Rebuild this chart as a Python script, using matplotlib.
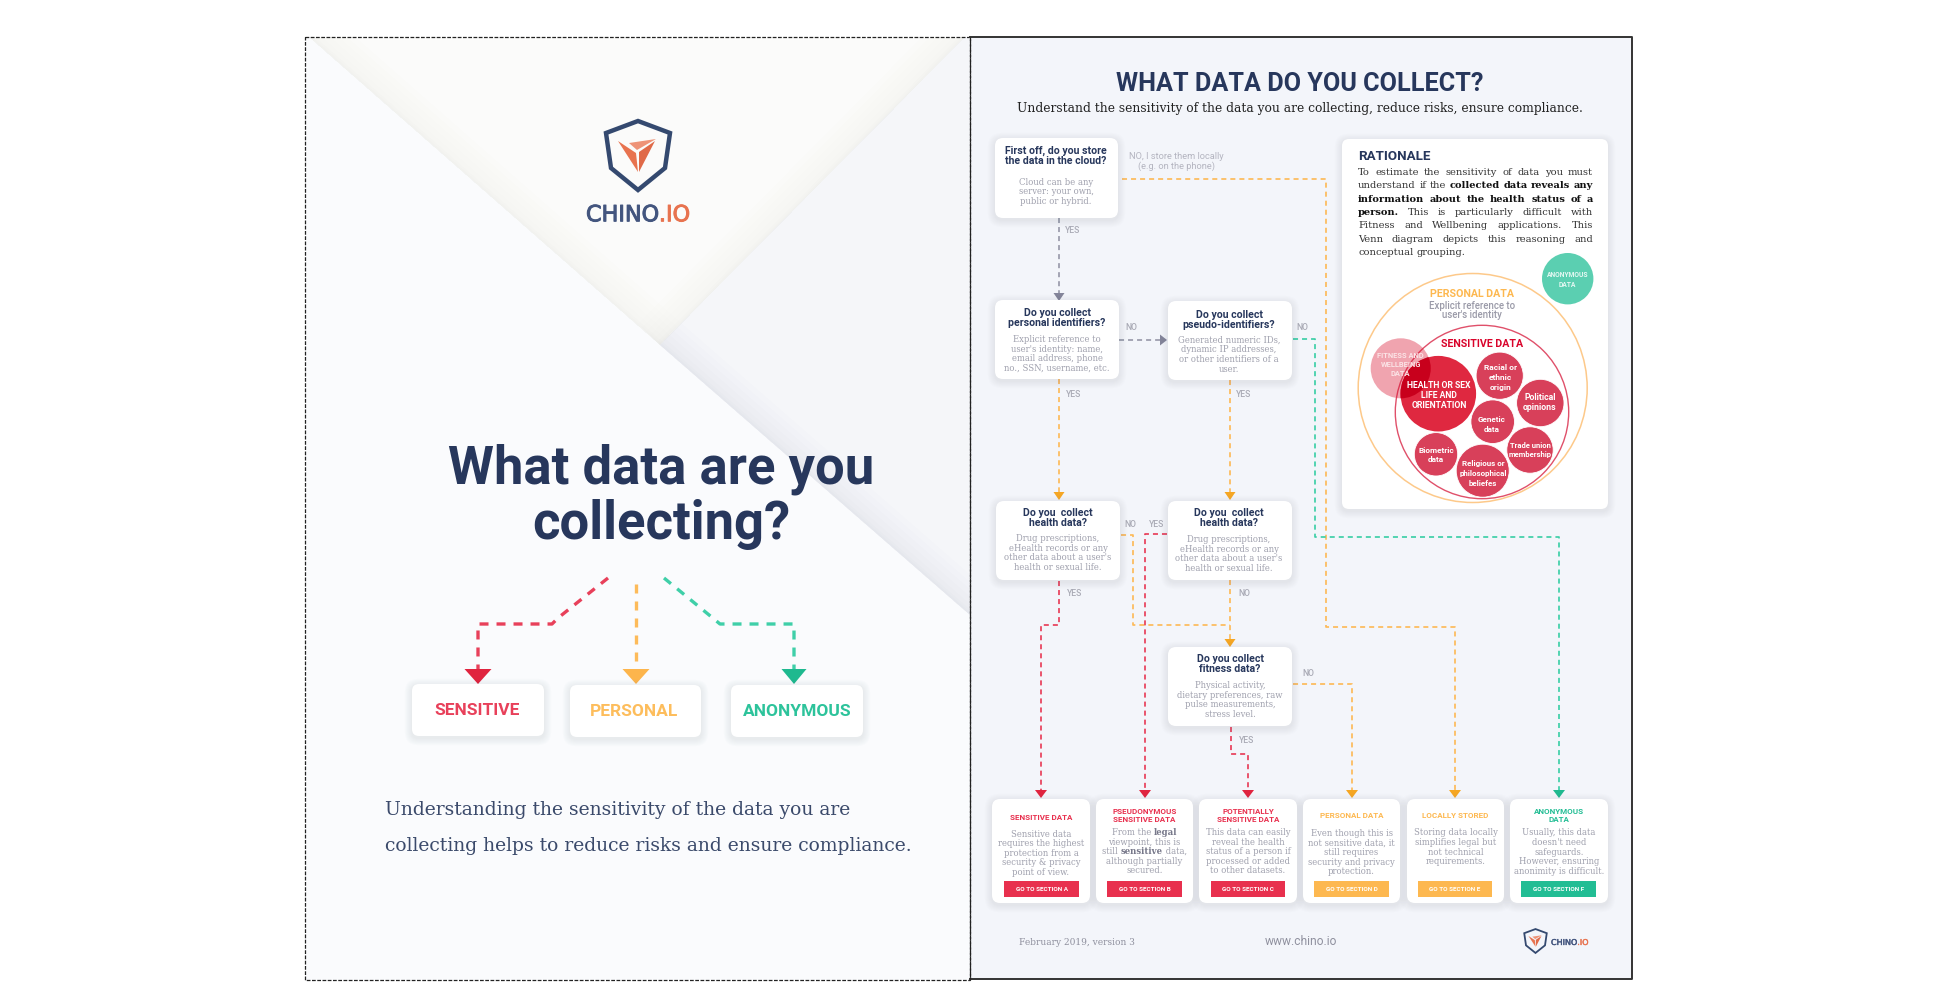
import matplotlib
matplotlib.use("Agg")
import matplotlib.pyplot as plt
import matplotlib.patheffects as pe
from matplotlib.patches import FancyBboxPatch, Polygon, Circle, Rectangle

# ---------- text content ----------
COVER_TITLE = ["What data are you", "collecting?"]
COVER_CARDS = ["SENSITIVE", "PERSONAL", "ANONYMOUS"]
COVER_PARAGRAPH = ["Understanding the sensitivity of the data you are",
                   "collecting helps to reduce risks and ensure compliance."]
PAGE_TITLE = "WHAT DATA DO YOU COLLECT?"
PAGE_SUBTITLE = "Understand the sensitivity of the data you are collecting, reduce risks, ensure compliance."

QUESTION_TITLES = [
    ["First off, do you store", "the data in the cloud?"],
    ["Do you collect", "personal identifiers?"],
    ["Do you collect", "pseudo-identifiers?"],
    ["Do you  collect", "health data?"],
    ["Do you  collect", "health data?"],
    ["Do you collect", "fitness data?"],
]
QUESTION_BODIES = [
    ["Cloud can be any", "server: your own,", "public or hybrid."],
    ["Explicit reference to", "user's identity: name,", "email address, phone", "no., SSN, username, etc."],
    ["Generated numeric IDs,", "dynamic IP addresses,", "or other identifiers of a", "user."],
    ["Drug prescriptions,", "eHealth records or any", "other data about a user's", "health or sexual life."],
    ["Drug prescriptions,", "eHealth records or any", "other data about a user's", "health or sexual life."],
    ["Physical activity,", "dietary preferences, raw", "pulse measurements,", "stress level."],
]
OUTCOME_TITLES = [
    ["SENSITIVE DATA"],
    ["PSEUDONYMOUS", "SENSITIVE DATA"],
    ["POTENTIALLY", "SENSITIVE DATA"],
    ["PERSONAL DATA"],
    ["LOCALLY STORED"],
    ["ANONYMOUS", "DATA"],
]
OUTCOME_BODIES = [
    ["Sensitive data", "requires the highest", "protection from a", "security & privacy", "point of view."],
    ["From the legal", "viewpoint, this is", "still sensitive data,", "although partially", "secured."],
    ["This data can easily", "reveal the health", "status of a person if", "processed or added", "to other datasets."],
    ["Even though this is", "not sensitive data, it", "still requires", "security and privacy", "protection."],
    ["Storing data locally", "simplifies legal but", "not technical", "requirements."],
    ["Usually, this data", "doesn't need", "safeguards.", "However, ensuring", "anonimity is difficult."],
]
OUTCOME_BUTTONS = ["GO TO SECTION A", "GO TO SECTION B", "GO TO SECTION C",
                   "GO TO SECTION D", "GO TO SECTION E", "GO TO SECTION F"]
RATIONALE_HEAD = "RATIONALE"
RATIONALE_LINES = [
    [("To estimate the sensitivity of data you must", False)],
    [("understand if the", False), ("collected data reveals any", True)],
    [("information about the health status of a", True)],
    [("person.", True), ("This is particularly difficult with", False)],
    [("Fitness and Wellbening applications. This", False)],
    [("Venn diagram depicts this reasoning and", False)],
    [("conceptual grouping.", False)],
]
VENN_LABELS = {
    "fitness": ["FITNESS AND", "WELLBEING", "DATA"],
    "health": ["HEALTH OR SEX", "LIFE AND", "ORIENTATION"],
    "racial": ["Racial or", "ethnic", "origin"],
    "political": ["Political", "opinions"],
    "genetic": ["Genetic", "data"],
    "trade": ["Trade union", "membership"],
    "religious": ["Religious or", "philosophical", "beliefes"],
    "biometric": ["Biometric", "data"],
    "anonymous": ["ANONYMOUS", "DATA"],
}
FOOTER = ["February 2019, version 3", "www.chino.io"]

# ---------- colours / fonts ----------
NAVY = "#27375c"
GREY_TXT = "#a0a1ae"
RED, RED_H = "#e8405a", "#e0243f"
ORA, ORA_H = "#fdbb5a", "#f5a623"
GRN, GRN_H = "#3fcfa8", "#1fb98f"
GRY, GRY_H = "#9a9bab", "#84859a"
SANS = "Roboto"
SLAB = "DejaVu Serif"

fig = plt.figure(figsize=(19.44, 9.98), dpi=100, facecolor="white")
ax = fig.add_axes([0, 0, 1, 1])
ax.set_xlim(0, 1944)
ax.set_ylim(998, 0)
ax.axis("off")
rend = fig.canvas.get_renderer()


def size_for(s, w, family=SANS, weight="normal"):
    t = ax.text(0, 0, s, fontsize=10, family=family, weight=weight)
    wd = t.get_window_extent(rend).width
    t.remove()
    return 10 * w / wd


def T(x, y, s, size, color=NAVY, weight="normal", family=SANS, ha="center", z=20, alpha=None):
    return ax.text(x, y + 0.08 * size, s, fontsize=size, color=color, weight=weight, family=family,
                   ha=ha, va="center", zorder=z, alpha=alpha)


def box(x0, y0, x1, y1, r=8, fc="white", z=10, shadow=True):
    if shadow:
        for i in range(8, 0, -1):
            e = i * 1.5
            ax.add_patch(FancyBboxPatch((x0 + r - e * .6, y0 + r - e * .6 + 2), x1 - x0 - 2 * r + 1.2 * e,
                                        y1 - y0 - 2 * r + 1.2 * e,
                                        boxstyle=f"round,pad={r},rounding_size={r + e * .5}",
                                        fc="#4a5a86", ec="none", alpha=0.011, zorder=z - 1))
    ax.add_patch(FancyBboxPatch((x0 + r, y0 + r), x1 - x0 - 2 * r, y1 - y0 - 2 * r,
                                boxstyle=f"round,pad={r},rounding_size={r}",
                                fc=fc, ec="none", zorder=z))


def arrow(pts, color, head, lw=1.25, on=2.9, off=2.3, hw=5.5, hl=8, z=5):
    xs = [p[0] for p in pts]
    ys = [p[1] for p in pts]
    (ax_, ay_), (bx, by) = pts[-2], pts[-1]
    if bx == ax_:
        s = 1 if by > ay_ else -1
        ys[-1] = by - s * hl
        tri = [(bx, by), (bx - hw, by - s * hl), (bx + hw, by - s * hl)]
    else:
        s = 1 if bx > ax_ else -1
        xs[-1] = bx - s * hl
        tri = [(bx, by), (bx - s * hl, by - hw), (bx - s * hl, by + hw)]
    ax.plot(xs, ys, color=color, lw=lw, ls=(0, (on, off)), zorder=z, solid_capstyle="butt")
    if hl > 1:
        ax.add_patch(Polygon(tri, closed=True, fc=head, ec="none", zorder=z + 1))


def logo(cx, top, w, h, lw):
    sx, sy = w / 71.0, h / 75.0
    P = lambda a, b: (cx + a * sx, top + b * sy)
    ax.add_patch(Polygon([P(0, 3), P(32, 15), P(27, 50), P(0, 72), P(-27, 50), P(-32, 15)], closed=True,
                         fc="none", ec="#34496f", lw=lw, joinstyle="miter", zorder=20))
    ax.add_patch(Polygon([P(-20, 23), P(-2, 35), P(0, 54)], closed=True, fc="#e8734f", ec="none", zorder=20))
    ax.add_patch(Polygon([P(-9, 25), P(18, 21), P(-1, 32)], closed=True, fc="#ee9377", ec="none", zorder=20))
    ax.add_patch(Polygon([P(1, 34), P(17, 23), P(1, 54)], closed=True, fc="#e06a48", ec="none", zorder=20))


def wordmark(x0, y, size, sw):
    t = T(x0, y, "CHINO", size, "#43557e", family="DejaVu Sans", ha="left")
    t.set_path_effects([pe.withStroke(linewidth=sw, foreground="#43557e")])
    e = t.get_window_extent(rend)
    t2 = T(e.x1 + 0.3, y, ".IO", size, "#e8734f", family="DejaVu Sans", ha="left")
    t2.set_path_effects([pe.withStroke(linewidth=sw, foreground="#e8734f")])


# ---------- left (cover) page ----------
ax.add_patch(Rectangle((304.5, 37), 665.5, 943, fc="#fafbfd", ec="none", zorder=0))
top_tri = Polygon([(309, 37), (965, 37), (660, 345)], closed=True, fc="#fbfbfa", ec="none", zorder=1)
right_tri = Polygon([(660, 345), (965, 37), (970, 37), (970, 615)], closed=True, fc="#f5f6f9", ec="none", zorder=1)
ax.add_patch(top_tri)
ax.add_patch(right_tri)
# soft shading along the folds of the paper
for lw_, a_ in [(44, .006), (36, .006), (28, .007), (20, .008), (12, .009), (6, .010), (3, .012)]:
    l1, = ax.plot([309, 660], [37, 345], color="#8a8778", lw=lw_, alpha=a_, zorder=2, solid_capstyle="butt")
    l1.set_clip_path(top_tri)
    l2, = ax.plot([660, 965], [345, 37], color="#8a8778", lw=lw_, alpha=a_, zorder=2, solid_capstyle="butt")
    l2.set_clip_path(top_tri)
    l3, = ax.plot([660, 970], [345, 615], color="#6a7090", lw=lw_, alpha=a_ * 1.5, zorder=2, solid_capstyle="butt")
    l3.set_clip_path(right_tri)
ax.add_patch(Rectangle((304.5, 37), 665.5, 943, fc="none", ec="#222222", lw=0.9, ls=(0, (3, 1.2)), zorder=30))

logo(638, 118, 71, 75, 3.2)
wordmark(586, 214, size_for("CHINO.IO", 103, "DejaVu Sans"), 0.7)

s = size_for(COVER_TITLE[0], 427, weight="bold")
T(661, 466, COVER_TITLE[0], s, NAVY, "bold")
T(661, 521, COVER_TITLE[1], s, NAVY, "bold")

kw = dict(lw=2.4, on=2.7, off=2.4, hw=13.5, hl=15)
arrow([(608, 578), (558, 618), (552, 624), (478, 624), (478, 684)], RED, RED_H, **kw)
arrow([(636, 584), (636, 684)], ORA, "#fdb54c", **kw)
arrow([(664, 578), (714, 619), (720, 624), (794, 624), (794, 684)], GRN, GRN_H, lw=2.4, on=2.7, off=2.4, hw=12.5, hl=15)

cx = [(412, 544, 684, 736, 477, 85, "#e8405a"), (570, 701, 685, 737, 634, 88, "#fdbd5c"), (731, 863, 685, 737, 797, 108, "#2dc39b")]
for lab, (a, b, c, d, tx, tw, col) in zip(COVER_CARDS, cx):
    box(a, c, b, d, r=7)
    T(tx, 710, lab, size_for(lab, tw, weight="bold"), col, "bold")

s = size_for(COVER_PARAGRAPH[1], 533, SLAB)
T(385, 809, COVER_PARAGRAPH[0], s, "#3b4a6b", family=SLAB, ha="left")
T(385, 845, COVER_PARAGRAPH[1], s, "#3b4a6b", family=SLAB, ha="left")

# ---------- right page ----------
ax.add_patch(Rectangle((970, 37), 662, 942, fc="#f3f5fa", ec="none", zorder=0))
ax.plot([970, 1632, 1632, 970], [37, 37, 979, 979], color="#333333", lw=1.4, zorder=30)
ax.plot([970, 970], [37, 979], color="#222222", lw=0.9, ls=(0, (3, 1.2)), zorder=30)

T(1300, 83, PAGE_TITLE, size_for(PAGE_TITLE, 368, weight="bold"), NAVY, "bold")
T(1300, 108, PAGE_SUBTITLE, size_for(PAGE_SUBTITLE, 564, SLAB), "#222222", family=SLAB)

# question boxes
Q_BOX = [(995, 138, 1118, 218), (995, 300, 1119, 379), (1168, 301, 1292, 380),
         (996, 501, 1120, 580), (1168, 501, 1292, 580), (1168, 647, 1292, 726)]
Q_CX = [1056, 1057, 1229, 1058, 1229, 1230]
Q_TY = [(150, 160), (312, 322), (314, 324), (512, 522), (512, 522), (658, 668)]
Q_BY = [(182, 191, 201), (339, 349, 358, 368), (340, 349, 359, 369), (538, 548, 557, 567),
        (539, 549, 558, 568), (685, 695, 704, 714)]
q_title = size_for("First off, do you store", 102, weight="bold")
body = size_for("requires the highest", 88, SLAB)
for b, c, ty, by, tl, bl in zip(Q_BOX, Q_CX, Q_TY, Q_BY, QUESTION_TITLES, QUESTION_BODIES):
    box(*b)
    for y, l in zip(ty, tl):
        T(c, y, l, q_title, NAVY, "bold")
    for y, l in zip(by, bl):
        T(c, y, l, body, GREY_TXT, family=SLAB)

# flow arrows
arrow([(1059, 218), (1059, 301)], GRY, GRY_H)
arrow([(1119, 340), (1167, 340)], GRY, GRY_H, hl=7)
arrow([(1059, 379), (1059, 500)], ORA, ORA_H)
arrow([(1230, 380), (1230, 500)], ORA, ORA_H)
arrow([(1122, 179), (1326, 179), (1326, 627), (1455, 627), (1455, 798)], ORA, ORA_H, hw=6)
arrow([(1293, 339), (1315, 339), (1315, 537), (1559, 537), (1559, 798)], GRN, GRN_H, hw=6)
arrow([(1121, 535), (1133, 535), (1133, 625), (1230, 625)], ORA, ORA_H, hw=0.1, hl=0.1)
arrow([(1230, 580), (1230, 647)], ORA, ORA_H)
arrow([(1167, 534), (1145, 534), (1145, 798)], RED, RED_H, hw=6)
arrow([(1059, 581), (1059, 625), (1041, 625), (1041, 798)], RED, RED_H, hw=6)
arrow([(1231, 727), (1231, 754), (1248, 754), (1248, 798)], RED, RED_H, hw=6)
arrow([(1293, 684), (1352, 684), (1352, 798)], ORA, ORA_H, hw=6)

lab = size_for("YES", 15)
for x, y, t in [(1073, 230, "YES"), (1131, 327, "NO"), (1074, 394, "YES"), (1244, 394, "YES"), (1302, 327, "NO"),
                (1130, 524, "NO"), (1157, 524, "YES"), (1244, 593, "NO"), (1075, 593, "YES"),
                (1308, 673, "NO"), (1247, 740, "YES")]:
    T(x, y, t, lab, "#a9aab5", "medium")
s = size_for("NO, I store them locally", 95)
T(1176, 156, "NO, I store them locally", s, "#b4b5c0")
T(1176, 166, "(e.g. on the phone)", s, "#b4b5c0")

# outcome cards
O_X = [(992, 1090), (1096, 1193), (1199, 1297), (1303, 1400), (1407, 1504), (1510, 1608)]
O_BTN = [(1004, 1079), (1107, 1182), (1211, 1285), (1314, 1389), (1418, 1492), (1521, 1596)]
O_COL = ["#e8304e", "#e8304e", "#e8304e", "#fdb850", "#fdb850", "#22bd94"]
O_TY = [[817], [811, 819.5], [811, 819.5], [815], [815], [811, 819.5]]
O_BY = [[834, 843, 853, 862, 872], [832, 842, 851, 861, 870], [832, 842, 851, 861, 870],
        [833, 843, 852, 862, 871], [832, 842, 852, 861], [832, 842, 852, 861, 871]]
o_title = size_for("SENSITIVE DATA", 62, weight="bold")
o_btn = size_for("GO TO SECTION A", 53, weight="bold")
BOLD_WORDS = {"From the legal": ("From the ", "legal", ""), "still sensitive data,": ("still ", "sensitive", " data,")}
for (a, b), (p, q), col, ty, by, tl, bl, bt in zip(O_X, O_BTN, O_COL, O_TY, O_BY, OUTCOME_TITLES, OUTCOME_BODIES, OUTCOME_BUTTONS):
    box(a, 799, b, 903)
    c = (a + b) / 2
    for y, l in zip(ty, tl):
        T(c, y, l, o_title, col, "bold")
    for y, l in zip(by, bl):
        if l in BOLD_WORDS:
            tmp = []
            for s_, wt in zip(BOLD_WORDS[l], ("normal", "bold", "normal")):
                if s_:
                    t = T(0, y, s_.replace(" ", "\u00a0"), body, GREY_TXT if wt == "normal" else "#77788a", wt, SLAB, ha="left")
                    tmp.append((t, t.get_window_extent(rend).width))
            x = c - sum(w for _, w in tmp) / 2
            for t, w in tmp:
                t.set_x(x)
                x += w
        else:
            T(c, y, l, body, GREY_TXT, family=SLAB)
    ax.add_patch(Rectangle((p, 881), q - p, 16, fc=col, ec="none", zorder=11))
    T((p + q) / 2, 889, bt, o_btn, "white", "bold")

# rationale
box(1342, 139, 1608, 509, r=7)
T(1358, 156, RATIONALE_HEAD, size_for(RATIONALE_HEAD, 72, weight="bold"), NAVY, "bold", ha="left")
r_size = size_for("conceptual grouping.", 107, SLAB)
R_Y = [172, 185, 199, 212, 225, 239, 252]
for n, (y, segs) in enumerate(zip(R_Y, RATIONALE_LINES)):
    words = [(w, bd) for seg, bd in segs for w in seg.split()]
    items = []
    for w, bd in words:
        t = T(0, y, w, r_size, "#111111" if bd else "#333333", "bold" if bd else "normal", SLAB, ha="left")
        items.append((t, t.get_window_extent(rend).width))
    total = sum(w for _, w in items)
    gap = (235 - total) / (len(items) - 1) if n < len(RATIONALE_LINES) - 1 else 3.0
    x = 1358
    for t, w in items:
        t.set_x(x)
        x += w + gap

# Venn diagram
ax.add_patch(Circle((1472.7, 388), 114.5, fc="white", ec="#fdc98a", lw=1.1, zorder=12))
ax.add_patch(Circle((1482, 412), 86.7, fc="white", ec="#e0506a", lw=1.0, zorder=13))
V = {"racial": (1499.7, 375.7, 23.6), "political": (1540.3, 403, 23.7), "genetic": (1492.7, 421.7, 21.8),
     "trade": (1530, 450, 23.2), "religious": (1482.7, 470.7, 26.5), "biometric": (1436, 454.3, 21.7)}
for x, y, r in V.values():
    ax.add_patch(Circle((x, y), r, fc="#d8405a", ec="white", lw=0.6, zorder=14))
ax.add_patch(Circle((1438.3, 393.7), 37.8, fc="#df2840", ec="none", zorder=15))
ax.add_patch(Circle((1400.7, 368.3), 30, fc="#d8112f", ec="none", alpha=0.38, zorder=16))
clip = Circle((1400.7, 368.3), 30, transform=ax.transData)
c2 = Circle((1438.3, 393.7), 37.8, fc="#c8001c", ec="none", zorder=17)
ax.add_patch(c2)
c2.set_clip_path(clip)
ax.add_patch(Circle((1567.7, 278.7), 25.7, fc="#5bcfb1", ec="none", zorder=14))

T(1472, 293, "PERSONAL DATA", size_for("PERSONAL DATA", 84, weight="bold"), "#fdb850", "bold")
s = size_for("Explicit reference to", 86, weight="medium")
T(1472, 305, "Explicit reference to", s, "#9a9aa8", "medium")
T(1472, 314, "user's identity", s, "#9a9aa8", "medium")
T(1482, 343, "SENSITIVE DATA", size_for("SENSITIVE DATA", 83, weight="bold"), "#d9042b", "bold")

VT = {"fitness": (1400.7, [354.7, 364, 372.7], 47, "FITNESS AND"),
      "health": (1439, [385.3, 395, 405], 64, "HEALTH OR SEX"),
      "racial": (1500.7, [367, 376.7, 386.7], 33, "Racial or"),
      "political": (1540, [397.3, 407], 32, "Political"),
      "genetic": (1492, [419.3, 428.7], 28, "Genetic"),
      "trade": (1530, [445, 454], 41, "Trade union"),
      "religious": (1483, [463, 472.7, 482.7], 48, "philosophical"),
      "biometric": (1436, [450, 459], 36, "Biometric"),
      "anonymous": (1567.7, [274.7, 284.7], 42, "ANONYMOUS")}
for k, (x, ys, w, ref) in VT.items():
    s = size_for(ref, w, weight="bold")
    col = "#fbe3e6" if k in ("fitness",) else ("#e6f8f3" if k == "anonymous" else "white")
    for y, l in zip(ys, VENN_LABELS[k]):
        T(x, y, l, s, col, "bold", z=22)

# footer
T(1019, 942, FOOTER[0], size_for(FOOTER[0], 115, SLAB), "#8f909e", family=SLAB, ha="left")
T(1301, 941, FOOTER[1], size_for(FOOTER[1], 72), "#8f909e")
logo(1535.5, 928, 25, 26, 1.3)
wordmark(1551, 942, size_for("CHINO.IO", 37, "DejaVu Sans"), 0.3)

fig.savefig("out.png", dpi=100, facecolor="white")
